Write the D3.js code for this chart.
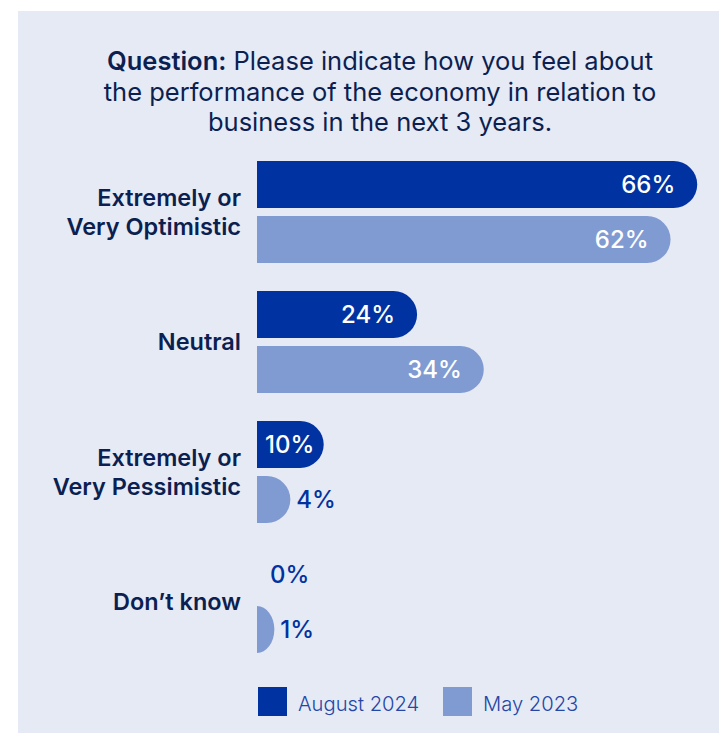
<!DOCTYPE html>
<html>
<head>
<meta charset="utf-8">
<script src="https://cdn.jsdelivr.net/npm/d3@7"></script>
<style>
  html, body { margin: 0; padding: 0; background: #ffffff; }
  svg { display: block; }
</style>
</head>
<body>
<svg id="chart" width="719" height="733"></svg>
<script>
// Survey answers, two waves
const categories = [
  ["Extremely or", "Very Optimistic"],
  ["Neutral"],
  ["Extremely or", "Very Pessimistic"],
  ["Don\u2019t know"]
];
const seriesNames = ["August 2024", "May 2023"];
const august2024 = [66, 24, 10, 0];
const may2023 = [62, 34, 4, 1];
const titleLines = [
  [{ t: "Question:", b: true }, { t: " Please indicate how you feel about", b: false }],
  [{ t: "the performance of the economy in relation to", b: false }],
  [{ t: "business in the next 3 years.", b: false }]
];

const colors = { "August 2024": "#0033a1", "May 2023": "#809bd2" };
const W = 719, H = 733;
const svg = d3.select("#chart");

// panel background
svg.append("rect").attr("x", 18).attr("y", 11).attr("width", W - 18).attr("height", H - 11)
  .attr("fill", "#e6eaf5");

// title
const title = svg.append("text").attr("text-anchor", "middle")
  .attr("font-family", "Inter, 'Noto Sans', sans-serif").attr("font-size", 25.5)
  .attr("fill", "#0c1f51");
titleLines.forEach((line, i) => {
  const ts = title.append("tspan").attr("x", 380).attr("y", 70 + i * 30.5);
  line.forEach((seg, j) => {
    const s = j === 0 ? ts : title.append("tspan");
    s.text(seg.t).attr("font-weight", seg.b ? 600 : 400);
  });
});

// scales
const x0 = 257;
const x = d3.scaleLinear().domain([0, 100]).range([0, 667]);
const keys = categories.map(c => c.join(" "));
const y = d3.scaleBand().domain(keys).range([161, 653]).paddingInner(0.2154).paddingOuter(0);
const ySub = d3.scaleBand().domain(seriesNames).range([0, y.bandwidth()]).paddingInner(0.14545);

// short bars get a stub so the rounded end stays readable
const barLen = v => v === 0 ? 0 : Math.max(x(v), 12 + 0.8 * x(v));

function barPath(w, h) {
  const ry = h / 2, rx = Math.min(ry, w);
  return `M0,0H${w - rx}A${rx},${ry} 0 0 1 ${w},${ry}A${rx},${ry} 0 0 1 ${w - rx},${h}H0Z`;
}

const rows = [];
keys.forEach((k, i) => {
  rows.push({ cat: k, series: seriesNames[0], v: august2024[i] });
  rows.push({ cat: k, series: seriesNames[1], v: may2023[i] });
});

const g = svg.append("g").attr("transform", `translate(${x0},0)`);
const bar = g.selectAll("g.bar").data(rows).join("g").attr("class", "bar")
  .attr("transform", d => `translate(0,${y(d.cat) + ySub(d.series)})`);

bar.filter(d => d.v > 0).append("path")
  .attr("d", d => barPath(barLen(d.v), ySub.bandwidth()))
  .attr("fill", d => colors[d.series]);

bar.append("text")
  .attr("font-family", "Inter, 'DejaVu Sans', sans-serif").attr("font-size", 24).attr("font-weight", 500)
  .attr("y", ySub.bandwidth() / 2).attr("dy", "0.37em")
  .text(d => d.v + "%")
  .each(function (d) {
    const t = d3.select(this);
    const len = this.getComputedTextLength();
    const w = barLen(d.v);
    if (len + 16 <= w) {
      // inside, right aligned
      const xr = Math.max(w - 22, len + 8);
      t.attr("x", xr).attr("text-anchor", "end").attr("fill", "#ffffff");
    } else {
      t.attr("x", w + (d.v === 0 ? 13 : 6)).attr("text-anchor", "start").attr("fill", "#0033a1");
    }
  });

// category labels
const catG = svg.append("g").attr("font-family", "Inter, 'Noto Sans', sans-serif")
  .attr("font-size", 23.5).attr("font-weight", 600).attr("fill", "#0c1f51").attr("text-anchor", "end");
categories.forEach((lines, i) => {
  const cy = y(keys[i]) + y.bandwidth() / 2;
  const lh = 29.5;
  const t = catG.append("text");
  lines.forEach((ln, j) => {
    t.append("tspan").attr("x", 241)
      .attr("y", cy + (j - (lines.length - 1) / 2) * lh).attr("dy", "0.36em").text(ln);
  });
});

// legend
const leg = svg.append("g").attr("font-family", "Inter, 'Noto Sans', sans-serif")
  .attr("font-size", 20.2).attr("font-weight", 300).attr("fill", "#2447a6");
const legX = [258, 443];
seriesNames.forEach((s, i) => {
  leg.append("rect").attr("x", legX[i]).attr("y", 687).attr("width", 29).attr("height", 29)
    .attr("fill", colors[s]);
  leg.append("text").attr("x", legX[i] + 40).attr("y", 711).text(s);
});
</script>
</body>
</html>
